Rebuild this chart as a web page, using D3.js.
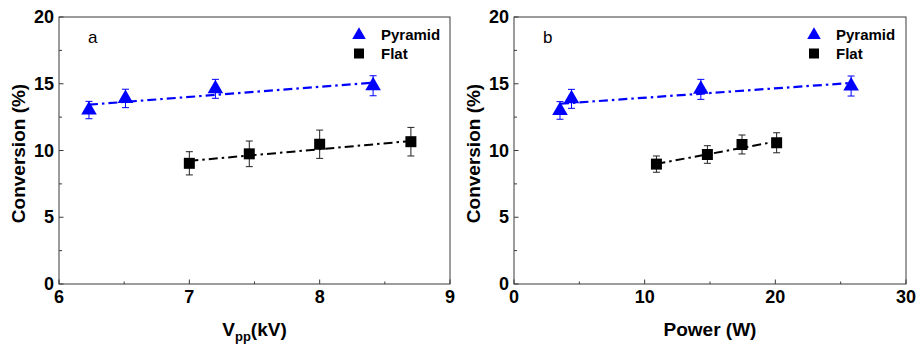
<!DOCTYPE html>
<html>
<head>
<meta charset="utf-8">
<script src="https://cdn.jsdelivr.net/npm/d3@7"></script>
<style>
  body { margin: 0; background: #fff; }
  text { font-family: "Liberation Sans", Arial, sans-serif; }
</style>
</head>
<body>
<div class="chart"></div>
<script>
// ------------------------------------------------------------------
// Data
var yTicks = [0, 5, 10, 15, 20];

// panel a : conversion vs Vpp
var vppTicks = [6, 7, 8, 9];
var vppPyr = [6.23, 6.51, 7.2, 8.41];
var convPyrA = [13.03, 13.9, 14.62, 14.85];
var errPyrA = [0.65, 0.69, 0.71, 0.75];
var vppFlat = [7.0, 7.46, 8.0, 8.7];
var convFlatA = [9.04, 9.75, 10.47, 10.66];
var errFlatA = [0.87, 0.96, 1.06, 1.07];
var fitPyrA = [13.43, 15.08];   // at first / last Vpp of pyramid
var fitFlatA = [9.22, 10.71];

// panel b : conversion vs power
var powTicks = [0, 10, 20, 30];
var powPyr = [3.52, 4.4, 14.3, 25.8];
var convPyrB = [13.0, 13.87, 14.58, 14.83];
var errPyrB = [0.66, 0.71, 0.75, 0.75];
var powFlat = [10.9, 14.8, 17.45, 20.1];
var convFlatB = [8.98, 9.7, 10.45, 10.58];
var errFlatB = [0.61, 0.66, 0.71, 0.75];
var fitPyrB = [13.5, 15.06];
var fitFlatB = [9.0, 10.68];

// ------------------------------------------------------------------
var width = 922, height = 345;
var top_ = 17, bottom_ = 284;
var blue = "#0000ff", black = "#000000", axisCol = "#3a3a3a";

var svg = d3.select(".chart").append("svg")
  .attr("width", width)
  .attr("height", height);

function draw_panel(opt)
{
  var x = d3.scaleLinear().domain(opt.xDomain).range([opt.left, opt.right]);
  var y = d3.scaleLinear().domain([0, 20]).range([bottom_, top_]);
  var g = svg.append("g");

  // minor ticks (inward)
  var xMinor = d3.range(opt.xDomain[0], opt.xDomain[1] + 1e-9, opt.xStep / 2);
  var yMinor = d3.range(0, 20.0001, 2.5);

  g.selectAll(".xt").data(xMinor).enter().append("line")
    .attr("x1", d => x(d)).attr("x2", d => x(d))
    .attr("y1", bottom_).attr("y2", (d, i) => bottom_ - (i % 2 ? 2.5 : 4.5))
    .attr("stroke", axisCol).attr("stroke-width", 1);
  g.selectAll(".yt").data(yMinor).enter().append("line")
    .attr("y1", d => y(d)).attr("y2", d => y(d))
    .attr("x1", opt.left).attr("x2", (d, i) => opt.left + (i % 2 ? 3 : 4.5))
    .attr("stroke", axisCol).attr("stroke-width", 1);

  // frame
  g.append("rect")
    .attr("x", opt.left).attr("y", top_)
    .attr("width", opt.right - opt.left).attr("height", bottom_ - top_)
    .attr("fill", "none").attr("stroke", axisCol).attr("stroke-width", 1);

  // tick labels
  g.selectAll(".xl").data(opt.xTicks).enter().append("text")
    .attr("x", d => x(d)).attr("y", bottom_ + 19)
    .attr("text-anchor", "middle")
    .attr("font-size", 18).attr("font-weight", "bold")
    .text(d => d);
  g.selectAll(".yl").data(yTicks).enter().append("text")
    .attr("x", opt.left - 5).attr("y", d => y(d) + 6)
    .attr("text-anchor", "end")
    .attr("font-size", 18).attr("font-weight", "bold")
    .text(d => d);

  // axis titles
  g.append("text")
    .attr("transform", "translate(" + (opt.left - 34) + "," + ((top_ + bottom_) / 2 + 3) + ") rotate(-90)")
    .attr("text-anchor", "middle")
    .attr("font-size", 19).attr("font-weight", "bold")
    .text("Conversion (%)");
  opt.xTitle(g.append("text")
    .attr("x", (opt.left + opt.right) / 2).attr("y", 336)
    .attr("text-anchor", "middle")
    .attr("font-size", 19).attr("font-weight", "bold"));

  // panel letter
  g.append("text")
    .attr("x", opt.left + 29).attr("y", 43)
    .attr("font-size", 17)
    .text(opt.letter);

  // fit lines
  var line = d3.line().x(d => x(d[0])).y(d => y(d[1]));
  g.append("path")
    .attr("d", line([[opt.pyrX[0], opt.fitPyr[0]], [opt.pyrX[opt.pyrX.length - 1], opt.fitPyr[1]]]))
    .attr("stroke", blue).attr("stroke-width", 2.2).attr("fill", "none")
    .attr("stroke-dasharray", "9,4,2.5,4");
  g.append("path")
    .attr("d", line([[opt.flatX[0], opt.fitFlat[0]], [opt.flatX[opt.flatX.length - 1], opt.fitFlat[1]]]))
    .attr("stroke", black).attr("stroke-width", 2).attr("fill", "none")
    .attr("stroke-dasharray", "9,4,2.5,4");

  // series
  function series(xs, ys, es, col, sym, size)
  {
    var pts = xs.map((d, i) => ({x: d, y: ys[i], e: es[i]}));
    var s = g.append("g");
    var eb = s.selectAll(".eb").data(pts).enter().append("g")
      .attr("stroke", col === blue ? blue : "#222").attr("stroke-width", 1);
    eb.append("line").attr("x1", d => x(d.x)).attr("x2", d => x(d.x))
      .attr("y1", d => y(d.y - d.e)).attr("y2", d => y(d.y + d.e));
    eb.append("line").attr("x1", d => x(d.x) - 3.5).attr("x2", d => x(d.x) + 3.5)
      .attr("y1", d => y(d.y - d.e)).attr("y2", d => y(d.y - d.e));
    eb.append("line").attr("x1", d => x(d.x) - 3.5).attr("x2", d => x(d.x) + 3.5)
      .attr("y1", d => y(d.y + d.e)).attr("y2", d => y(d.y + d.e));
    s.selectAll(".m").data(pts).enter().append("path")
      .attr("d", d3.symbol(sym, size))
      .attr("transform", d => "translate(" + x(d.x) + "," + y(d.y) + ")")
      .attr("fill", col);
  }
  series(opt.pyrX, opt.pyrY, opt.pyrE, blue, d3.symbolTriangle, 105);
  series(opt.flatX, opt.flatY, opt.flatE, black, d3.symbolSquare, 121);

  // legend
  var lx = opt.right - opt.legendOff;
  g.append("path").attr("d", d3.symbol(d3.symbolTriangle, 80))
    .attr("transform", "translate(" + lx + ",35)").attr("fill", blue);
  g.append("path").attr("d", d3.symbol(d3.symbolSquare, 100))
    .attr("transform", "translate(" + lx + ",53.5)").attr("fill", black);
  g.append("text").attr("x", lx + 22).attr("y", 40)
    .attr("font-size", 15).attr("font-weight", "bold").text("Pyramid");
  g.append("text").attr("x", lx + 22).attr("y", 59)
    .attr("font-size", 15).attr("font-weight", "bold").text("Flat");
}

draw_panel({
  left: 59, right: 450, xDomain: [6, 9], xStep: 1, xTicks: vppTicks, letter: "a", legendOff: 91,
  pyrX: vppPyr, pyrY: convPyrA, pyrE: errPyrA, fitPyr: fitPyrA,
  flatX: vppFlat, flatY: convFlatA, flatE: errFlatA, fitFlat: fitFlatA,
  xTitle: function(t) {
    t.append("tspan").text("V");
    t.append("tspan").attr("font-size", 13).attr("dy", 5).text("pp");
    t.append("tspan").attr("dy", -5).text("(kV)");
  }
});
draw_panel({
  left: 514, right: 906, xDomain: [0, 30], xStep: 10, xTicks: powTicks, letter: "b", legendOff: 92,
  pyrX: powPyr, pyrY: convPyrB, pyrE: errPyrB, fitPyr: fitPyrB,
  flatX: powFlat, flatY: convFlatB, flatE: errFlatB, fitFlat: fitFlatB,
  xTitle: function(t) { t.text("Power (W)"); }
});
</script>
</body>
</html>
